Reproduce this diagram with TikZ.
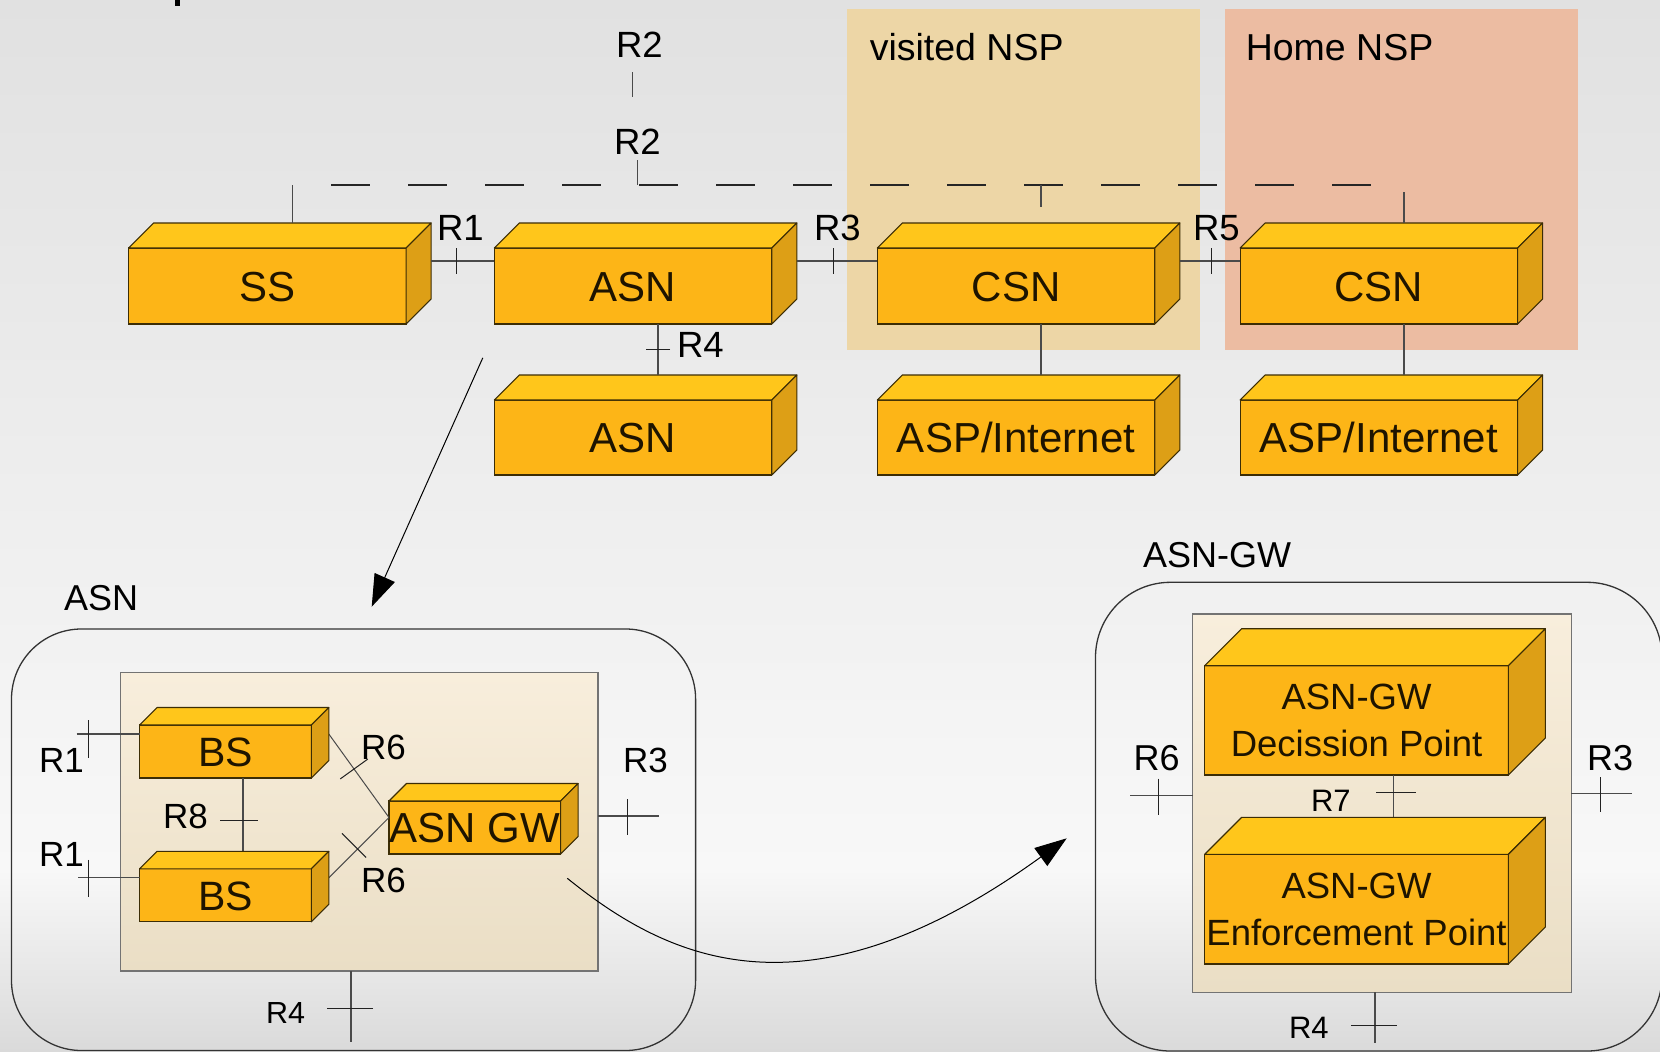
\documentclass[tikz,border=0pt]{standalone}
\usepackage{fontspec}
\setmainfont{Liberation Sans}
\usetikzlibrary{calc,arrows.meta,decorations.markings}

\definecolor{bgtop}{HTML}{E1E1E1}
\definecolor{bgmid}{HTML}{F8F8F8}
\definecolor{bgbot}{HTML}{DADADA}
\definecolor{visitednsp}{HTML}{EDD6A6}
\definecolor{homensp}{HTML}{ECBCA2}
\definecolor{boxfront}{HTML}{FDB517}
\definecolor{boxtop}{HTML}{FFC61B}
\definecolor{boxright}{HTML}{DD9F16}
\definecolor{boxline}{HTML}{3C2D05}
\definecolor{innertop}{HTML}{F8EEDC}
\definecolor{innerbot}{HTML}{EADEC5}
\definecolor{connc}{HTML}{4A4A4A}
\definecolor{tickc}{HTML}{222222}
\definecolor{boxtext}{HTML}{1E1400}

\newcommand\setfs[1]{\fontsize{#1}{#1}\selectfont}

% side and top faces of a 3D block whose front face is node #1, depth #2
\newcommand\cubefaces[2]{%
  \path[cubetop] (#1.north west) -- ++(#2,-#2) -- ($(#1.north east)+(#2,-#2)$) -- (#1.north east) -- cycle;
  \path[cuberight] (#1.north east) -- ++(#2,-#2) -- ($(#1.south east)+(#2,-#2)$) -- (#1.south east) -- cycle;
}

\tikzset{
  cubefront/.style={draw=boxline, fill=boxfront, line width=1.1pt, inner sep=0pt, outer sep=0pt, text=boxtext},
  cubetop/.style={draw=boxline, fill=boxtop, line width=1.1pt, line join=round},
  cuberight/.style={draw=boxline, fill=boxright, line width=1.1pt, line join=round},
  bigtxt/.style={font=\setfs{42}, text height=30.1pt, text depth=0pt},
  bstxt/.style={font=\setfs{41}, text height=29.4pt, text depth=0pt},
  gwtxt/.style={font=\setfs{36.5}, anchor=base, inner sep=0pt, text=boxtext},
  conn/.style={draw=connc, line width=1.3pt},
  tickmark/.style={draw=tickc, line width=1pt},
  rtick/.style n args={3}{postaction={decorate, decoration={markings,
      mark=at position #1 with {\draw[tickmark] (0pt,#2pt) -- (0pt,-#3pt);}}}},
  dashline/.style={draw=black!85, line width=1.4pt, dash pattern=on 38.5pt off 38.5pt},
  zoomarrow/.style={draw=black, line width=1pt, -{Triangle[length=32pt,width=22pt]}},
  outerbox/.style={draw=black!80, line width=1.3pt, inner sep=0pt, outer sep=0pt, rounded corners=70pt},
  innerbox/.style={draw=black!55, line width=1.1pt, top color=innertop, bottom color=innerbot, inner sep=0pt, outer sep=0pt},
  nsp/.style={inner sep=0pt, outer sep=0pt},
  lbl/.style={anchor=base west, inner sep=0pt, outer sep=0pt, text=black},
}

\begin{document}
\begin{tikzpicture}[x=1pt,y=-1pt]
\useasboundingbox (0,0) rectangle (1660,1052);

% page background
\fill[top color=bgtop, bottom color=bgmid] (0,0) rectangle (1660,870);
\fill[top color=bgmid, bottom color=bgbot] (0,869.5) rectangle (1660,1052);
\fill[black] (175,0) rectangle (180,6);

% operator domains
\node[nsp, fill=visitednsp, minimum width=353pt, minimum height=341pt] (vnsp) at (1023.5,179.5) {};
\node[nsp, fill=homensp, minimum width=352.5pt, minimum height=341pt] (hnsp) at (1401.25,179.5) {};
\node[lbl, font=\setfs{37.5}] (vnspl) at (869.8,60) {visited NSP};
\node[lbl, font=\setfs{37.5}] (hnspl) at (1245.8,60) {Home NSP};

% ---------------- network reference model ----------------
\node[cubefront, bigtxt, minimum width=277.5pt, minimum height=76pt] (ss)   at (267.3,286)   {\makebox[0pt]{SS}};
\node[cubefront, bigtxt, minimum width=277.5pt, minimum height=76pt] (asn)  at (633.1,286)   {\makebox[0pt]{ASN}};
\node[cubefront, bigtxt, minimum width=277.5pt, minimum height=76pt] (csnv) at (1016.05,286) {\makebox[0pt]{CSN}};
\node[cubefront, bigtxt, minimum width=277.5pt, minimum height=76pt] (csnh) at (1378.85,286) {\makebox[0pt]{CSN}};
\node[cubefront, bigtxt, minimum width=277.5pt, minimum height=75pt] (asn2) at (633.1,437.5) {\makebox[0pt]{ASN}};
\node[cubefront, bigtxt, minimum width=277.5pt, minimum height=75pt] (aspv) at (1016.05,437.5) {\makebox[0pt]{ASP/Internet}};
\node[cubefront, bigtxt, minimum width=277.5pt, minimum height=75pt] (asph) at (1378.85,437.5) {\makebox[0pt]{ASP/Internet}};
\foreach \n in {ss,asn,csnv,csnh,asn2,aspv,asph} {\cubefaces{\n}{25}}

% R2 bus
\coordinate (dA) at (331,185);
\coordinate (dB) at (1371,185);
\draw[dashline] (dA) -- (dB);
\coordinate (r2top) at (632.6,72);
\coordinate (r2bot) at (632.6,97);
\draw[conn, line width=1pt] (r2top) -- (r2bot);
\coordinate (r2b) at (637.7,160);
\draw[conn] (r2b) -- (r2b |- dA);
\draw[conn] ($(ss.north)+(25,-25)$) coordinate (sst) -- (sst |- dA);
\coordinate (vstub) at (1041.05,207);
\draw[conn] (vstub |- dA) -- (vstub);
\coordinate (hup) at (1403.85,192);
\draw[conn] ($(csnh.north)+(25,-25)$) coordinate (cht) -- (cht |- hup);

% reference points between blocks
\draw[conn, rtick={0.4}{13}{13}]  ($(ss.east)+(25,-25)$)   -- ([yshift=25pt]asn.west);
\draw[conn, rtick={0.46}{13}{13}] ($(asn.east)+(25,-25)$)  -- ([yshift=25pt]csnv.west);
\draw[conn, rtick={0.53}{13}{13}] ($(csnv.east)+(25,-25)$) -- ([yshift=25pt]csnh.west);
\draw[conn, rtick={0.5}{12}{12}]  ([xshift=25pt]asn.south)  -- ($(asn2.north)+(25,-25)$);
\draw[conn] ([xshift=25pt]csnv.south) -- ($(aspv.north)+(25,-25)$);
\draw[conn] ([xshift=25pt]csnh.south) -- ($(asph.north)+(25,-25)$);

\node[lbl, font=\setfs{36.5}] (lr2a) at (616,57) {R2};
\node[lbl, font=\setfs{36.5}] (lr2b) at (614,154) {R2};
\node[lbl, font=\setfs{36.5}] (lr1)  at (437,240) {R1};
\node[lbl, font=\setfs{36.5}] (lr3)  at (814,240) {R3};
\node[lbl, font=\setfs{36.5}] (lr5)  at (1193,240) {R5};
\node[lbl, font=\setfs{36.5}] (lr4)  at (677,357) {R4};

% ---------------- ASN decomposition ----------------
\coordinate (zA) at (482.8,357.8);
\coordinate (zB) at (371.7,606.7);
\draw[zoomarrow] (zA) -- (zB);

\node[lbl, font=\setfs{36}] (asngl) at (64,610) {ASN};
\node[outerbox, minimum width=684.1pt, minimum height=421.5pt] (asngrp) at (353.55,839.75) {};
\node[innerbox, minimum width=477.2pt, minimum height=298.3pt] (asnin) at (359.4,821.85) {};

\node[cubefront, bstxt, minimum width=171.7pt, minimum height=53pt] (bs1) at (225.45,751.5)  {\makebox[0pt]{BS}};
\node[cubefront, bstxt, minimum width=171.7pt, minimum height=53pt] (bs2) at (225.45,895.35) {\makebox[0pt]{BS}};
\node[cubefront, bigtxt, minimum width=171.6pt, minimum height=53pt] (gw) at (474.8,827.5)  {\makebox[0pt]{ASN GW}};

\coordinate (r1a) at (76.7,734);
\coordinate (r1b) at (78,877.8);
\draw[conn, rtick={0.19}{14}{24}] (r1a) -- (r1a -| bs1.west);
\draw[conn, rtick={0.17}{18}{19}] (r1b) -- (r1b -| bs2.west);
\draw[conn, rtick={0.585}{15}{23}] ([xshift=17.5pt]bs1.south) -- ($(bs2.north)+(17.5,-17.5)$);
\draw[conn, line width=1pt, rtick={0.42}{17}{17}] ($(bs1.east)+(17.5,-17.5)$) -- ([yshift=10pt]gw.west);
\draw[conn, line width=1pt, rtick={0.48}{22}{12}] ($(bs2.east)+(17.5,-17.5)$) -- ([yshift=10pt]gw.west);
\foreach \n in {bs1,bs2,gw} {\cubefaces{\n}{17.5}}

\coordinate (r3a) at (659,816);
\draw[conn, rtick={0.477}{17}{19}] (r3a -| asnin.east) -- (r3a);
\coordinate (r4a) at (351,1041.7);
\draw[conn, rtick={0.537}{22}{24}] (r4a |- asnin.south) -- (r4a);

\node[lbl, font=\setfs{35}] (lr1a) at (39,772) {R1};
\node[lbl, font=\setfs{35}] (lr1b) at (39,866) {R1};
\node[lbl, font=\setfs{35}] (lr8)  at (163,828) {R8};
\node[lbl, font=\setfs{35}] (lr6a) at (361,759) {R6};
\node[lbl, font=\setfs{35}] (lr6b) at (361,892.7) {R6};
\node[lbl, font=\setfs{35}] (lr3a) at (623,772.7) {R3};
\node[lbl, font=\setfs{30.5}] (lr4a) at (266,1023.3) {R4};

% ---------------- ASN-GW decomposition ----------------
\coordinate (gwc0) at (567.3,878.3);
\coordinate (gwc1) at (1066.7,838.3);
\draw[zoomarrow] (gwc0) .. controls (665,957) and (803.7,1028.5) .. (gwc1);

\node[lbl, font=\setfs{36}] (gwgl) at (1143,567) {ASN-GW};
\node[outerbox, rounded corners=75pt, minimum width=566.5pt, minimum height=468.7pt] (gwgrp) at (1378.75,816.65) {};
\node[innerbox, minimum width=378.5pt, minimum height=378.3pt] (gwin) at (1382.05,803.15) {};

\node[cubefront, minimum width=303.7pt, minimum height=109.3pt] (dp) at (1356.55,720.35) {};
\node[cubefront, minimum width=303.7pt, minimum height=109.7pt] (ep) at (1356.55,909.15) {};
\draw[conn, rtick={0.42}{22}{18}] ([xshift=37pt]dp.south) -- ($(ep.north)+(37,-37)$);
\foreach \n in {dp,ep} {\cubefaces{\n}{37}}
\node[gwtxt] (dpl1) at (1356.55,709) {ASN-GW};
\node[gwtxt] (dpl2) at (1356.55,756) {Decission Point};
\node[gwtxt] (epl1) at (1356.55,898) {ASN-GW};
\node[gwtxt] (epl2) at (1356.55,945) {Enforcement Point};

\coordinate (r6c) at (1130,795.7);
\draw[conn, rtick={0.46}{17}{19}] (r6c) -- (r6c -| gwin.west);
\coordinate (r3c) at (1632,793.3);
\draw[conn, rtick={0.48}{16}{19}] (r3c -| gwin.east) -- (r3c);
\coordinate (r4c) at (1374.9,1043.3);
\draw[conn, rtick={0.655}{22}{24}] (r4c |- gwin.south) -- (r4c);

\node[lbl, font=\setfs{36}] (lr6c) at (1133.5,770) {R6};
\node[lbl, font=\setfs{36}] (lr3c) at (1587,770) {R3};
\node[lbl, font=\setfs{31}] (lr7)  at (1311,811.7) {R7};
\node[lbl, font=\setfs{31}] (lr4c) at (1289,1038.3) {R4};
\end{tikzpicture}
\end{document}
